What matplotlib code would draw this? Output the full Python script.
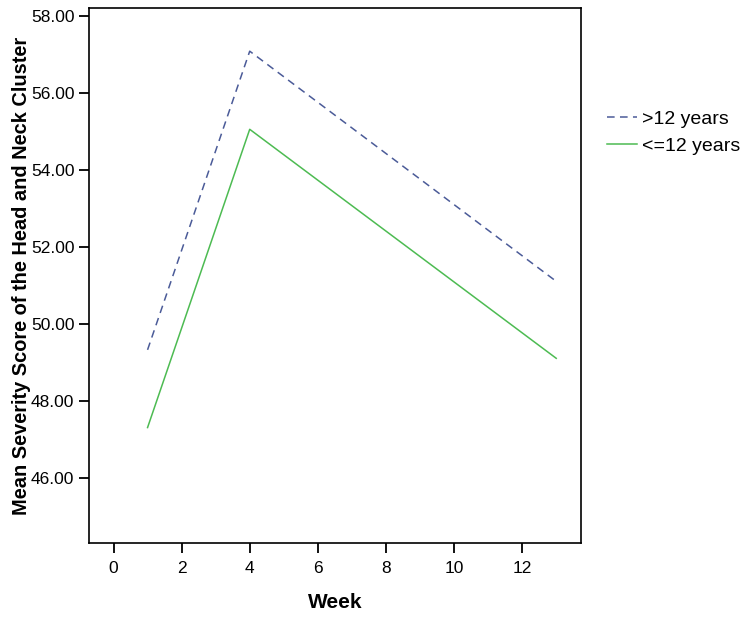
import matplotlib
matplotlib.use("Agg")
import matplotlib.pyplot as plt

plt.rcParams["font.family"] = ["Liberation Sans", "DejaVu Sans"]

weeks = [1, 4, 13]
older = [49.32, 57.08, 51.10]     # >12 years
younger = [47.30, 55.05, 49.10]   # <=12 years
x_ticks = [0, 2, 4, 6, 8, 10, 12]
y_ticks = [46, 48, 50, 52, 54, 56, 58]

fig = plt.figure(figsize=(7.49, 6.17), dpi=100)
ax = fig.add_axes([0.1188, 0.1199, 0.657, 0.867])

ax.plot(weeks, older, color="#4b5b98", linestyle=(0, (5, 3.5)), linewidth=1.1, label=">12 years")
ax.plot(weeks, younger, color="#4dbb52", linestyle="-", linewidth=1.1, label="<=12 years")

ax.set_xlim(-0.72, 13.73)
ax.set_ylim(44.3, 58.2)
ax.set_xticks(x_ticks)
ax.set_yticks(y_ticks)
ax.set_yticklabels([f"{v:.2f}" for v in y_ticks])
ax.tick_params(direction="out", length=7, width=1.3, labelsize=12.5, top=False, right=False)
ax.tick_params(axis="x", pad=6)
for s in ax.spines.values():
    s.set_linewidth(1.2)

ax.set_xlabel("Week", fontsize=15, fontweight="bold", labelpad=12)
ax.set_ylabel("Mean Severity Score of the Head and Neck Cluster", fontsize=14.4,
              fontweight="bold", labelpad=0)

ax.legend(loc="center left", bbox_to_anchor=(1.053, 0.767), frameon=False,
          fontsize=14, handlelength=1.55, handletextpad=0.26, labelspacing=0.5,
          borderpad=0, borderaxespad=0)

fig.savefig("out.png", dpi=100)
